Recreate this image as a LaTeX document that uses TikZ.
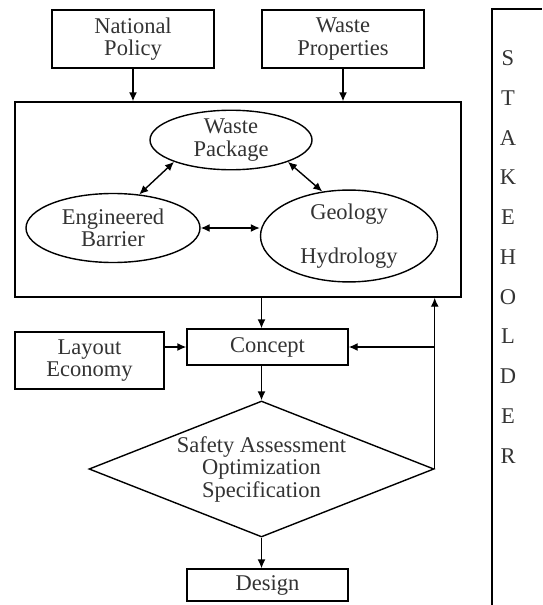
\documentclass[tikz,border=0pt]{standalone}
\usepackage{fontspec}
\setmainfont{Liberation Serif}
\usetikzlibrary{positioning}
\usetikzlibrary{shapes.geometric}
\usetikzlibrary{arrows.meta}

\begin{document}
\begin{tikzpicture}[x=1pt, y=-1pt, line width=1.4pt,
  font=\fontsize{22.5}{22.5}\selectfont,
  text only/.style={inner sep=2pt, align=center, text=black!80},
  box/.style={draw, rectangle, inner sep=0pt, align=center, text=black!80},
  blob/.style={draw, ellipse, inner sep=0pt, align=center, text=black!80},
  flow/.style={-{Latex[length=9pt,width=8pt]}},
  twoway/.style={{Latex[length=9pt,width=8pt]}-{Latex[length=9pt,width=8pt]}}]
\useasboundingbox (0,0) rectangle (542,605);
% inputs on top
\node[box, minimum width=162pt, minimum height=58pt]
  (policy)
  at (133, 39)
  {National\\Policy};
\node[box, minimum width=162pt, minimum height=58pt]
  (waste)
  at (343, 39)
  {Waste\\Properties};
% system box with the three ellipses
\node[box, minimum width=446pt, minimum height=195pt]
  (sys)
  at (238, 199.5)
  {};
\node[blob, minimum width=162pt, minimum height=56pt]
  (pkg)
  at (231, 140)
  {Waste\\Package};
\node[blob, minimum width=174pt, minimum height=69pt]
  (eng)
  at (113, 228)
  {Engineered\\Barrier};
\node[blob, minimum width=177pt, minimum height=86pt]
  (geo)
  at (349, 236)
  {Geology\\[22pt]Hydrology};
% lower flow
\node[box, minimum width=161pt, minimum height=36pt]
  (concept)
  at (267.5, 347)
  {Concept};
\node[box, minimum width=149pt, minimum height=57pt]
  (layout)
  at (89.5, 360.5)
  {Layout\\Economy};
\node[draw, diamond, aspect=2.54, inner sep=0pt, align=center, text=black!80,
      minimum width=345pt, minimum height=136pt]
  (safety)
  at (261.5, 469)
  {Safety Assessment\\Optimization\\Specification};
\node[box, minimum width=161pt, minimum height=32pt]
  (design)
  at (267.5, 585)
  {Design};
% stakeholder column
\draw (492, 605) |- (542, 9);
\foreach \ch [count=\k] in {S,T,A,K,E,H,O,L,D,E,R} {
  \node[text only]
    (stake-\k)
    at (508, 18.2+\k*39.8)
    {\ch};
}
% connectors
\draw[flow] (policy.south) -- (policy.south |- sys.north);
\draw[flow] (waste.south) -- (waste.south |- sys.north);
\draw[twoway] (pkg.201) -- (eng.52);
\draw[twoway] (pkg.339) -- (geo.121);
\draw[twoway] (eng.east) -- (eng.east -| geo.west);
\draw[flow] (safety.north |- sys.south) -- (safety.north |- concept.north);
\draw[flow] (layout.east |- concept.west) -- (concept.west);
\draw[flow] (concept.south -| safety.north) -- (safety.north);
\draw[flow] (safety.south) -- (safety.south |- design.north);
\draw[flow] (safety.east) -- (safety.east |- sys.south);
\draw[flow] (safety.east |- concept.east) -- (concept.east);
\end{tikzpicture}
\end{document}
